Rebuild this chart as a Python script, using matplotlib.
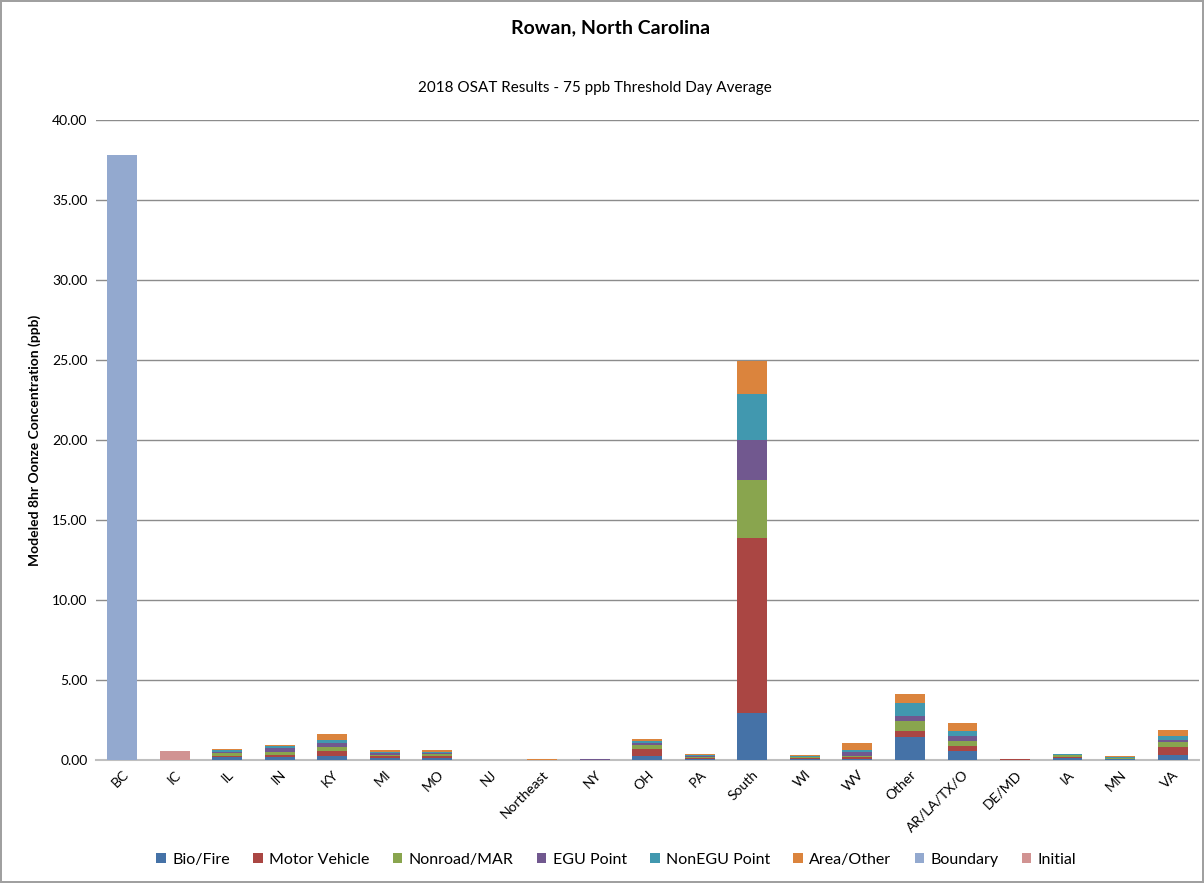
import matplotlib.pyplot as plt
import numpy as np

plt.rcParams['font.family'] = ['Lato', 'DejaVu Sans']

regions = ['BC', 'IC', 'IL', 'IN', 'KY', 'MI', 'MO', 'NJ', 'Northeast', 'NY', 'OH', 'PA',
           'South', 'WI', 'WV', 'Other', 'AR/LA/TX/O', 'DE/MD', 'IA', 'MN', 'VA']

bio      = [0, 0, 0.19, 0.17, 0.25, 0.10, 0.13, 0.005, 0.01, 0.01, 0.23, 0.05, 2.94, 0.05, 0.06, 1.42, 0.54, 0.02, 0.15, 0.05, 0.29]
motor    = [0, 0, 0.08, 0.16, 0.31, 0.13, 0.12, 0.005, 0.005, 0.01, 0.46, 0.06, 10.96, 0.06, 0.11, 0.39, 0.31, 0.02, 0.03, 0.04, 0.54]
nonroad  = [0, 0, 0.15, 0.17, 0.23, 0.08, 0.10, 0.003, 0.005, 0.01, 0.25, 0.07, 3.60, 0.06, 0.10, 0.61, 0.34, 0.01, 0.12, 0.04, 0.29]
egu      = [0, 0, 0.08, 0.25, 0.29, 0.11, 0.09, 0.002, 0.003, 0.01, 0.10, 0.06, 2.50, 0.04, 0.25, 0.31, 0.33, 0.01, 0.02, 0.02, 0.15]
nonegu   = [0, 0, 0.10, 0.13, 0.19, 0.10, 0.08, 0.002, 0.003, 0.01, 0.16, 0.05, 2.90, 0.04, 0.13, 0.83, 0.29, 0.01, 0.03, 0.02, 0.25]
area     = [0, 0, 0.09, 0.08, 0.33, 0.08, 0.08, 0.005, 0.01, 0.01, 0.11, 0.08, 2.04, 0.04, 0.41, 0.56, 0.48, 0.02, 0.02, 0.08, 0.34]
boundary = [37.80, 0, 0, 0, 0, 0, 0, 0, 0, 0, 0, 0, 0, 0, 0, 0, 0, 0, 0, 0, 0]
initial  = [0, 0.58, 0, 0, 0, 0, 0, 0, 0, 0, 0, 0, 0, 0, 0, 0, 0, 0, 0, 0, 0]

series = [('Bio/Fire', bio, '#4572A7'),
          ('Motor Vehicle', motor, '#AA4643'),
          ('Nonroad/MAR', nonroad, '#89A54E'),
          ('EGU Point', egu, '#71588F'),
          ('NonEGU Point', nonegu, '#4198AF'),
          ('Area/Other', area, '#DB843D'),
          ('Boundary', boundary, '#93A9CF'),
          ('Initial', initial, '#D19392')]

fig = plt.figure(figsize=(12.04, 8.83), dpi=100)
fig.patch.set_edgecolor('#A0A0A0')
fig.patch.set_linewidth(1.5)
ax = fig.add_axes([0.0797, 0.1393, 0.916, 0.7248])

x = np.arange(len(regions))
bottom = np.zeros(len(regions))
for name, vals, col in series:
    vals = np.array(vals)
    ax.bar(x, vals, 0.57, bottom=bottom, color=col, label=name,
           linewidth=0, zorder=3)
    bottom += vals

ax.set_ylim(0, 40)
ax.set_xlim(-0.5, len(regions) - 0.5)
ax.set_yticks(np.arange(0, 45, 5))
ax.set_yticklabels(['%.2f' % v for v in np.arange(0, 45, 5)], fontsize=10)
ax.yaxis.grid(True, color='#8C8C8C', linewidth=1, zorder=0)
ax.set_axisbelow(True)
for s in ['top', 'right', 'left']:
    ax.spines[s].set_visible(False)
ax.spines['bottom'].set_color('#BFBFBF')
ax.spines['bottom'].set_linewidth(1.5)
ax.tick_params(axis='both', length=0, pad=6)
ax.set_xticks(x)
ax.set_xticklabels(regions, rotation=45, ha='right', rotation_mode='anchor', fontsize=10)
ax.set_ylabel('Modeled 8hr Oonze Concentration (ppb)', fontsize=10, fontweight='bold', labelpad=8)

fig.text(0.507, 0.969, 'Rowan, North Carolina', ha='center', va='center', fontsize=14, fontweight='bold')
fig.text(0.494, 0.900, '2018 OSAT Results - 75 ppb Threshold Day Average', ha='center', va='center', fontsize=11)

fig.legend(loc='center', bbox_to_anchor=(0.512, 0.026), ncol=8, frameon=False, fontsize=11.5,
           handlelength=0.6, handleheight=0.6, handletextpad=0.4, columnspacing=1.45)

plt.savefig('out.png', dpi=100)
